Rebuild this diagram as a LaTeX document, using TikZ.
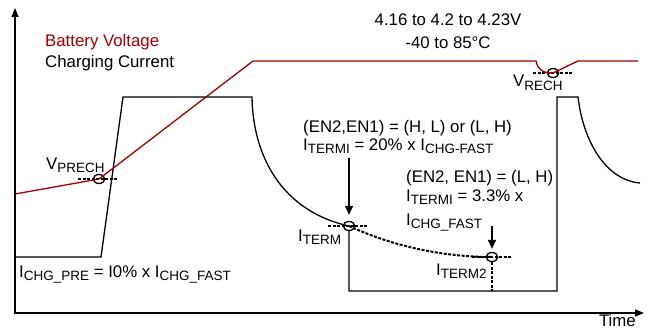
\documentclass[tikz,border=0pt]{standalone}
\usepackage{fontspec}
\setmainfont{Liberation Sans}
\usetikzlibrary{arrows.meta,shapes.geometric}
\definecolor{batred}{RGB}{160,0,0}
\newcommand{\lsub}[1]{\raisebox{-3pt}{\fontsize{13.5}{14}\selectfont #1}}
\begin{document}
\begin{tikzpicture}[x=1pt,y=-1pt,
  lbl/.style={anchor=base west,inner sep=0pt,font=\fontsize{16.8}{19}\selectfont},
  curr/.style={line width=1.3pt,black},
  volt/.style={line width=1.3pt,batred},
  dotl/.style={line width=2pt,dash pattern=on 3pt off 1.5pt},
  ring/.style={ellipse,draw,line width=1.3pt,minimum width=11.5pt,minimum height=9pt,inner sep=0pt},
  axis/.style={line width=1.5pt,-{Triangle[length=9pt,width=7pt]}},
  pointer/.style={line width=1.3pt,-{Triangle[length=9pt,width=8pt]}}]
\useasboundingbox (0,0) rectangle (648,329);

% axes
\coordinate (origin) at (15,313);
\coordinate (ytop) at (15,8);
\coordinate (xend) at (644,313);
\draw[axis] ([yshift=-0.75pt]origin) -- (ytop);
\draw[axis] (origin) -- (xend);

% marker rings
\node[ring] (vprech) at (99,179) {};
\node[ring] (vrech) at (553,73) {};
\node[ring] (iterm) at (349,226) {};
\node[ring] (iterm2) at (492,257) {};

% dotted level lines
\draw[dotl] ([xshift=-21pt]vprech.center) -- ([xshift=19pt]vprech.center);
\draw[dotl] ([xshift=-20pt]vrech.center) -- ([xshift=20pt]vrech.center);
\draw[dotl] ([xshift=-21pt]iterm.center) -- ([xshift=19pt]iterm.center);
\draw[dotl] ([xshift=-20pt]iterm2.center) -- ([xshift=20pt]iterm2.center);

% charging current
\draw[curr] (15,257) -- (101,257) -- (123,97) -- (252,97)
  .. controls (253,160) and (285,212) .. (iterm.center);
\draw[dotl] (iterm.center) .. controls (390,245) and (440,257) .. (iterm2.center);
\draw[curr] (iterm.south) -- (349,291) -- (557,291) -- (557,97) -- (578,97)
  .. controls (583,140) and (605,180) .. (640,183);
\draw[dotl] (iterm2.south) -- (492,291);

% battery voltage
\draw[volt] (15,194) -- (vprech.center) -- (253,61) -- (536,61)
  .. controls (538,70) and (543,73) .. (vrech.center) -- (578,61) -- (638,61);

% texts
\node[lbl,text=batred] (bv) at (45,47) {Battery Voltage};
\node[lbl] (cc) at (45,67) {Charging Current};
\node[lbl,anchor=base] (vrange) at (448,26) {4.16 to 4.2 to 4.23V};
\node[lbl,anchor=base] (trange) at (448,49) {-40 to 85°C};
\node[lbl] (vprechl) at (46,169) {V\lsub{PRECH}};
\node[lbl] (vrechl) at (513,87) {V\lsub{RECH}};
\node[lbl] (en1) at (303,132) {(EN2,EN1) = (H, L) or (L, H)};
\node[lbl] (it1) at (303,150) {I\lsub{TERMI} = 20\% x I\lsub{CHG-FAST}};
\node[lbl] (en2) at (406,182) {(EN2, EN1) = (L, H)};
\node[lbl] (it2) at (406,201) {I\lsub{TERMI} = 3.3\% x};
\node[lbl] (ichg) at (406,225) {I\lsub{CHG\_FAST}};
\node[lbl] (itermlbl) at (298,241) {I\lsub{TERM}};
\node[lbl] (iterm2lbl) at (436,275) {I\lsub{TERM2}};
\node[lbl] (ipre) at (19,277) {I\lsub{CHG\_PRE} = I0\% x I\lsub{CHG\_FAST}};
\node[lbl,anchor=base east] (time) at (636,326.5) {Time};

% pointer arrows
\coordinate (a1) at (349,158);
\coordinate (a2) at (492,226);
\draw[pointer,shorten >=6pt] (a1) -- (iterm);
\draw[pointer,shorten >=3pt] (a2) -- (iterm2);
\end{tikzpicture}
\end{document}
